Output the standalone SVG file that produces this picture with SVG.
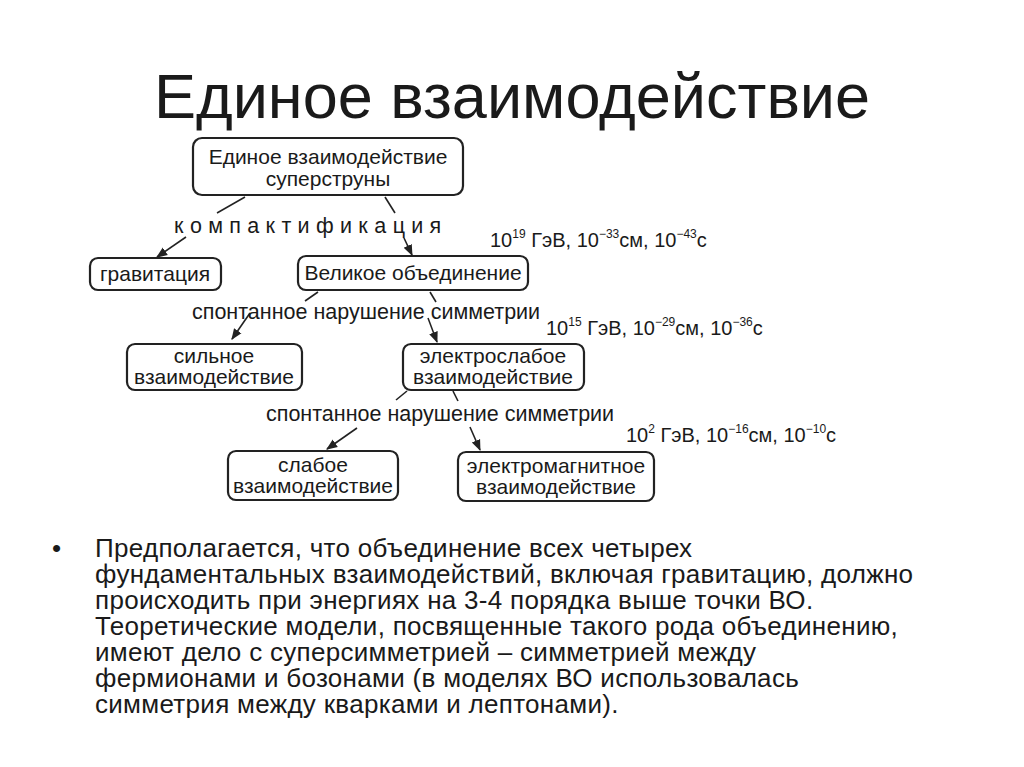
<svg xmlns="http://www.w3.org/2000/svg" width="1024" height="767" viewBox="0 0 1024 767">
<style>
text{font-family:"Liberation Sans",Arial,sans-serif;fill:#1a1a1a}
.b{fill:#fff;stroke:#222;stroke-width:2.2}
.n{font-size:21px;text-anchor:middle}
.l{font-size:21.5px}
.c line{stroke:#222;stroke-width:1.6}
.e{font-size:20px}
.p{font-size:26px;letter-spacing:0.3px}
.s{font-size:12px}
</style>
<defs><marker id="a" viewBox="0 0 10 10" refX="9" refY="5" markerWidth="7" markerHeight="7" orient="auto"><path d="M0,1L10,5L0,9z" fill="#222"/></marker></defs>
<rect width="1024" height="767" fill="#fff"/>
<text x="512" y="118" font-size="63" text-anchor="middle">Единое взаимодействие</text>
<g id="n1"><rect class="b" x="193" y="138" width="270" height="57" rx="9"/><text class="n" x="328" y="164">Единое взаимодействие</text><text class="n" x="328" y="186">суперструны</text></g>
<g id="n2"><rect class="b" x="90" y="258" width="131" height="32" rx="8"/><text class="n" x="155" y="281">гравитация</text></g>
<g id="n3"><rect class="b" x="298" y="256" width="230" height="34" rx="8"/><text class="n" x="413" y="280">Великое объединение</text></g>
<g id="n4"><rect class="b" x="127" y="344" width="175" height="46" rx="8"/><text class="n" x="214" y="363">сильное</text><text class="n" x="214" y="384">взаимодействие</text></g>
<g id="n5"><rect class="b" x="403" y="344" width="181" height="46" rx="8"/><text class="n" x="493" y="363">электрослабое</text><text class="n" x="493" y="384">взаимодействие</text></g>
<g id="n6"><rect class="b" x="228" y="451" width="170" height="49" rx="8"/><text class="n" x="313" y="472">слабое</text><text class="n" x="313" y="493">взаимодействие</text></g>
<g id="n7"><rect class="b" x="458" y="452" width="196" height="49" rx="8"/><text class="n" x="556" y="473">электромагнитное</text><text class="n" x="556" y="494">взаимодействие</text></g>
<g class="c">
<line x1="245" y1="197" x2="217" y2="213"/><line x1="186" y1="237" x2="157" y2="257" marker-end="url(#a)"/>
<line x1="385" y1="197" x2="395" y2="213"/><line x1="404" y1="238" x2="412" y2="255" marker-end="url(#a)"/>
<line x1="318" y1="292" x2="305" y2="301"/><line x1="250" y1="313" x2="232" y2="339" marker-end="url(#a)"/>
<line x1="430" y1="292" x2="436" y2="302"/><line x1="428" y1="318" x2="437" y2="342" marker-end="url(#a)"/>
<line x1="407" y1="391" x2="396" y2="400"/><line x1="357" y1="428" x2="327" y2="449" marker-end="url(#a)"/>
<line x1="453" y1="391" x2="458" y2="401"/><line x1="470" y1="427" x2="480" y2="450" marker-end="url(#a)"/>
</g>
<text class="l" x="174" y="233" font-size="19" letter-spacing="6.3">компактификация</text>
<text class="l" x="192" y="319">спонтанное нарушение симметрии</text>
<text class="l" x="266" y="421">спонтанное нарушение симметрии</text>
<text class="e" x="490" y="247">10<tspan class="s" dy="-9">19</tspan><tspan dy="9"> ГэВ,  10</tspan><tspan class="s" dy="-9">−33</tspan><tspan dy="9">см,  10</tspan><tspan class="s" dy="-9">−43</tspan><tspan dy="9">с</tspan></text>
<text class="e" x="546" y="335">10<tspan class="s" dy="-9">15</tspan><tspan dy="9"> ГэВ,  10</tspan><tspan class="s" dy="-9">−29</tspan><tspan dy="9">см,  10</tspan><tspan class="s" dy="-9">−36</tspan><tspan dy="9">с</tspan></text>
<text class="e" x="626" y="442">10<tspan class="s" dy="-9">2</tspan><tspan dy="9"> ГэВ,  10</tspan><tspan class="s" dy="-9">−16</tspan><tspan dy="9">см,  10</tspan><tspan class="s" dy="-9">−10</tspan><tspan dy="9">с</tspan></text>
<text class="p" x="52" y="557">•</text>
<g>
<text class="p" x="95" y="557">Предполагается, что объединение всех четырех</text>
<text class="p" x="95" y="583">фундаментальных взаимодействий, включая гравитацию, должно</text>
<text class="p" x="95" y="609">происходить при энергиях на 3-4 порядка выше точки ВО.</text>
<text class="p" x="95" y="635">Теоретические модели, посвященные такого рода объединению,</text>
<text class="p" x="95" y="661">имеют дело с суперсимметрией – симметрией между</text>
<text class="p" x="95" y="687">фермионами и бозонами (в моделях ВО использовалась</text>
<text class="p" x="95" y="713">симметрия между кварками и лептонами).</text>
</g>
</svg>
